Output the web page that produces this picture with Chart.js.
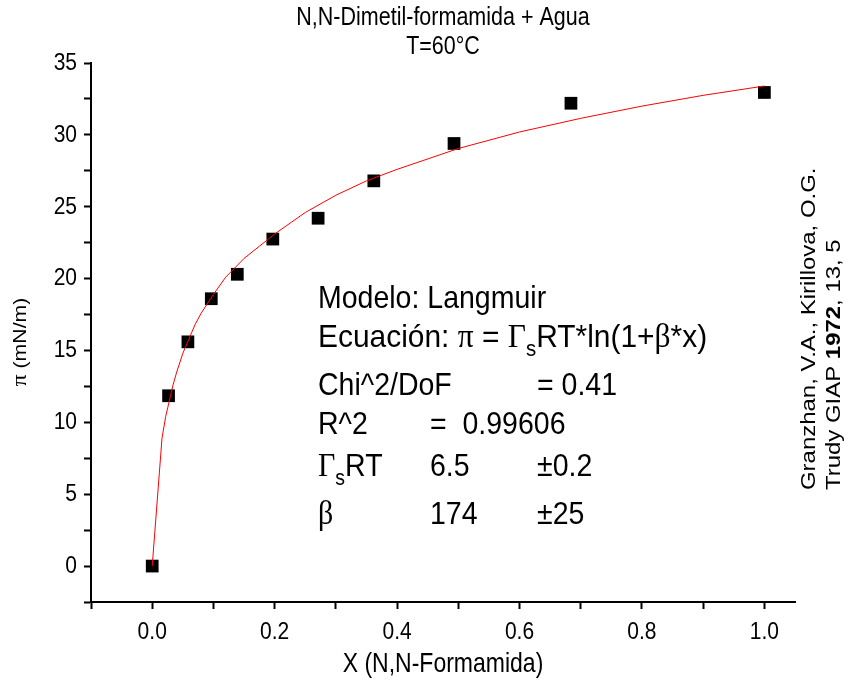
<!DOCTYPE html>
<html>
<head>
<meta charset="utf-8">
<title>N,N-Dimetil-formamida + Agua</title>
<script src="https://cdn.jsdelivr.net/npm/chart.js@4.4.0/dist/chart.umd.min.js"></script>
<style>
  html, body { margin: 0; padding: 0; background: #fff; }
  #wrap { width: 852px; height: 687px; }
</style>
</head>
<body>
<div id="wrap"><canvas id="chart" width="852" height="687"></canvas></div>
<script>
// measured points (mole fraction, surface pressure)
var xValues = [0, 0.0267, 0.0583, 0.0965, 0.139, 0.197, 0.271, 0.362, 0.493, 0.684, 1.0];
var piValues = [0, 11.85, 15.6, 18.6, 20.3, 22.75, 24.2, 26.8, 29.4, 32.2, 32.95];

// fitted Langmuir curve
var fitX = [0, 0.016, 0.022, 0.028, 0.034, 0.04, 0.05, 0.06, 0.07, 0.08, 0.1, 0.12, 0.15, 0.2, 0.25, 0.3, 0.35, 0.4, 0.5, 0.6, 0.7, 0.8, 0.9, 1.0];
var fitY = [0, 8.9, 10.4, 11.5, 12.6, 13.5, 14.8, 15.8, 16.8, 17.6, 18.9, 20.1, 21.4, 23.1, 24.6, 25.8, 26.8, 27.6, 29.05, 30.2, 31.15, 32.0, 32.75, 33.4];

var xTicks = [-0.1, 0, 0.1, 0.2, 0.3, 0.4, 0.5, 0.6, 0.7, 0.8, 0.9, 1.0];
var yTicks = [-2.5, 0, 2.5, 5, 7.5, 10, 12.5, 15, 17.5, 20, 22.5, 25, 27.5, 30, 32.5, 35];
var xLabels = ['0.0', '0.2', '0.4', '0.6', '0.8', '1.0'];
var yLabels = ['0', '5', '10', '15', '20', '25', '30', '35'];

var titleLines = ['N,N-Dimetil-formamida + Agua', 'T=60°C'];
var xTitle = 'X (N,N-Formamida)';
var sourceLines = ['Granzhan, V.A., Kirillova, O.G.', 'Trudy GIAP ', '1972', ', 13, 5'];

var SANS = '"Liberation Sans", Arial, sans-serif';
var SERIF = '"Liberation Serif", "DejaVu Serif", serif';
var STRETCH = 1.18; // the source picture is a bit taller than wide

function toPoints(xs, ys){
    var out = [];
    for( var i = 0; i < xs.length; i++ ){
        out.push({x: xs[i], y: ys[i]});
    }
    return out;
}

function runsWidth(ctx, runs){
    var w = 0;
    for( var i = 0; i < runs.length; i++ ){
        ctx.font = runs[i].font;
        w += ctx.measureText(runs[i].t).width;
    }
    return w;
}

// draws text runs at (x, y); align 'left' | 'center' | 'right'
// sx, sy stretch the glyphs, rot rotates the whole line
function drawRuns(ctx, runs, x, y, opts){
    opts = opts || {};
    var sx = opts.sx || 1, sy = opts.sy || 1;
    var w = runsWidth(ctx, runs);
    var start = 0;
    if( opts.align === 'center' ) start = -w / 2;
    if( opts.align === 'right' ) start = -w;
    ctx.save();
    ctx.translate(x, y);
    if( opts.rot ) ctx.rotate(opts.rot);
    ctx.scale(sx, sy);
    ctx.textAlign = 'left';
    ctx.textBaseline = opts.baseline || 'alphabetic';
    var cx = start;
    for( var i = 0; i < runs.length; i++ ){
        var r = runs[i];
        ctx.font = r.font;
        ctx.fillText(r.t, cx, r.dy || 0);
        cx += ctx.measureText(r.t).width;
    }
    ctx.restore();
}

var textPlugin = {
    id: 'texts',
    afterDraw: function(chart){
        var ctx = chart.ctx;
        var area = chart.chartArea;
        var cx = (area.left + area.right) / 2;
        var xs = chart.scales.x, ys = chart.scales.y;
        ctx.save();
        ctx.fillStyle = '#000';

        // title
        var tf = '21.5px ' + SANS;
        drawRuns(ctx, [{t: titleLines[0], font: tf}], cx, 18, {align: 'center', baseline: 'middle', sy: STRETCH});
        drawRuns(ctx, [{t: titleLines[1], font: tf}], cx, 47, {align: 'center', baseline: 'middle', sy: STRETCH});

        // tick labels, placed through the scales
        var lf = '21px ' + SANS;
        for( var i = 0; i < xLabels.length; i++ ){
            var px = xs.getPixelForValue(parseFloat(xLabels[i]));
            drawRuns(ctx, [{t: xLabels[i], font: lf}], px, 632, {align: 'center', baseline: 'middle', sy: STRETCH});
        }
        for( var j = 0; j < yLabels.length; j++ ){
            var py = ys.getPixelForValue(parseFloat(yLabels[j]));
            drawRuns(ctx, [{t: yLabels[j], font: lf}], 77, py, {align: 'right', baseline: 'middle', sy: STRETCH});
        }

        // axis titles
        drawRuns(ctx, [{t: xTitle, font: '23px ' + SANS}], cx, 665, {align: 'center', baseline: 'middle', sy: STRETCH});
        drawRuns(ctx, [
            {t: 'π', font: '20px ' + SERIF},
            {t: ' (mN/m)', font: '18px ' + SANS}
        ], 21, 342, {align: 'center', baseline: 'middle', rot: -Math.PI / 2, sx: STRETCH});

        // fit results
        var f = '28.5px ' + SANS;
        var g = '30px ' + SERIF;
        var s = '19.5px ' + SANS;
        var left = 318, col2 = 430, col3 = 537;
        var o = {sy: 1.12};
        drawRuns(ctx, [{t: 'Modelo: Langmuir', font: f}], left, 308, o);
        drawRuns(ctx, [
            {t: 'Ecuación: ', font: f},
            {t: 'π', font: g},
            {t: ' = ', font: f},
            {t: 'Γ', font: g},
            {t: 's', font: s, dy: 8},
            {t: 'RT*ln(1+', font: f},
            {t: 'β', font: g},
            {t: '*x)', font: f}
        ], left, 347, {sy: 1.12, sx: 1.05});
        drawRuns(ctx, [{t: 'Chi^2/DoF', font: f}], left, 395, o);
        drawRuns(ctx, [{t: '= 0.41', font: f}], col3, 395, o);
        drawRuns(ctx, [{t: 'R^2', font: f}], left, 434, o);
        drawRuns(ctx, [{t: '=  0.99606', font: f}], col2, 434, o);
        drawRuns(ctx, [
            {t: 'Γ', font: g},
            {t: 's', font: s, dy: 8},
            {t: 'RT', font: f}
        ], left, 476, o);
        drawRuns(ctx, [{t: '6.5', font: f}], col2, 476, o);
        drawRuns(ctx, [{t: '±0.2', font: f}], col3, 476, o);
        drawRuns(ctx, [{t: 'β', font: g}], left, 524, o);
        drawRuns(ctx, [{t: '174', font: f}], col2, 524, o);
        drawRuns(ctx, [{t: '±25', font: f}], col3, 524, o);

        // source, rotated on the right
        var sf = '21px ' + SANS;
        var r = {rot: -Math.PI / 2, sx: 1.14};
        drawRuns(ctx, [{t: sourceLines[0], font: sf}], 815, 490, r);
        drawRuns(ctx, [
            {t: sourceLines[1], font: sf},
            {t: sourceLines[2], font: 'bold ' + sf},
            {t: sourceLines[3], font: sf}
        ], 840, 490, r);

        ctx.restore();
    }
};

new Chart(document.getElementById('chart'), {
    type: 'scatter',
    data: {
        datasets: [{
            label: 'ajuste',
            data: toPoints(fitX, fitY),
            showLine: true,
            borderColor: '#ff0000',
            borderWidth: 1,
            pointRadius: 0,
            tension: 0,
            order: 0
        }, {
            label: 'datos',
            data: toPoints(xValues, piValues),
            pointStyle: 'rect',
            pointRadius: 9,
            pointHoverRadius: 9,
            backgroundColor: '#000',
            borderColor: '#000',
            borderWidth: 0,
            order: 1
        }]
    },
    options: {
        responsive: false,
        animation: false,
        events: [],
        layout: { padding: { top: 63, right: 57, left: 0, bottom: 0 } },
        plugins: {
            legend: { display: false },
            tooltip: { enabled: false },
            title: { display: false }
        },
        scales: {
            x: {
                type: 'linear',
                min: -0.1,
                max: 1.05,
                afterBuildTicks: function(scale){
                    scale.ticks = xTicks.map(function(v){ return {value: v}; });
                },
                afterFit: function(scale){ scale.height = 85; },
                border: { display: true, color: '#000', width: 2 },
                grid: {
                    drawOnChartArea: false,
                    drawTicks: true,
                    tickLength: 7,
                    tickColor: '#000',
                    tickWidth: 2
                },
                ticks: { display: false, autoSkip: false }
            },
            y: {
                type: 'linear',
                min: -2.5,
                max: 35,
                afterBuildTicks: function(scale){
                    scale.ticks = yTicks.map(function(v){ return {value: v}; });
                },
                afterFit: function(scale){ scale.width = 91; },
                border: { display: true, color: '#000', width: 2 },
                grid: {
                    drawOnChartArea: false,
                    drawTicks: true,
                    tickLength: 7,
                    tickColor: '#000',
                    tickWidth: 2
                },
                ticks: { display: false, autoSkip: false }
            }
        }
    },
    plugins: [textPlugin]
});
</script>
</body>
</html>
